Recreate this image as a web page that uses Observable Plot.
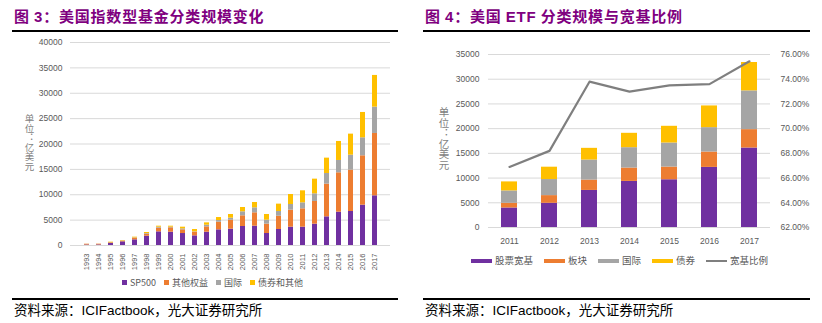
<!DOCTYPE html>
<html>
<head>
<meta charset="utf-8">
<script src="https://cdn.jsdelivr.net/npm/d3@7"></script>
<script src="https://cdn.jsdelivr.net/npm/@observablehq/plot@0.6"></script>
<style>
  body { margin: 0; background: #fff; }
  #root { position: relative; width: 822px; height: 323px; overflow: hidden; background: #fff; }
  .abs { position: absolute; }
  .title { position: absolute; font-family: "Noto Sans CJK SC", "Liberation Sans", sans-serif; font-weight: 700; font-size: 15px; letter-spacing: 0.8px; color: #800080; white-space: nowrap; line-height: 1; }
  .title .lat { font-family: "Liberation Sans", Arial, sans-serif; }
  .rule { position: absolute; height: 1.5px; background: #000; }
  .src { position: absolute; font-family: "Noto Sans CJK SC", sans-serif; font-size: 13.5px; color: #000; white-space: nowrap; line-height: 1; }
  .src .lat { font-family: "Liberation Sans", Arial, sans-serif; }
  .ylab { position: absolute; writing-mode: vertical-rl; text-orientation: upright; font-family: "Noto Sans CJK SC", sans-serif; color: #7f7f7f; line-height: 1; white-space: nowrap; }
  .legend { position: absolute; display: flex; align-items: center; font-family: "Noto Sans CJK SC", "Liberation Sans", sans-serif; color: #595959; white-space: nowrap; line-height: 1; }
  .legend .item { display: flex; align-items: center; }
  .legend .sw { display: inline-block; }
</style>
</head>
<body>
<div id="root">
  <div class="title" style="left:14px;top:8px">图 <span class="lat">3</span>：美国指数型基金分类规模变化</div>
  <div class="rule" style="left:12px;top:30px;width:386px"></div>
  <div id="c1" class="abs" style="left:0;top:0"></div>
  <div class="ylab" style="left:24px;top:114px;font-size:9.5px">单位：亿美元</div>
  <div id="leg1" class="legend" style="left:122px;top:278px;font-size:9px;gap:8px"></div>
  <div class="rule" style="left:12px;top:298px;width:386px"></div>
  <div class="src" style="left:14px;top:303px">资料来源：<span class="lat">ICIFactbook</span>，光大证券研究所</div>

  <div class="title" style="left:425px;top:8px">图 <span class="lat">4</span>：美国 <span class="lat">ETF</span> 分类规模与宽基比例</div>
  <div class="rule" style="left:423px;top:30px;width:387px"></div>
  <div id="c2" class="abs" style="left:410px;top:0"></div>
  <div class="ylab" style="left:438px;top:107px;font-size:10.5px">单位：亿美元</div>
  <div id="leg2" class="legend" style="left:471px;top:256px;font-size:9.5px;gap:11px"></div>
  <div class="rule" style="left:423px;top:298px;width:387px"></div>
  <div class="src" style="left:425px;top:303px">资料来源：<span class="lat">ICIFactbook</span>，光大证券研究所</div>
</div>
<script>
// ---------- Chart 3 data: 美国指数型基金分类规模 (亿美元) ----------
const years1 = ["1993","1994","1995","1996","1997","1998","1999","2000","2001","2002","2003","2004","2005","2006","2007","2008","2009","2010","2011","2012","2013","2014","2015","2016","2017"];
const series1 = ["SP500","其他权益","国际","债券和其他"];
const sp500      = [100,120,390,720,1115,1840,2690,2625,2360,1900,2625,3085,3220,3745,3810,2365,3155,3615,3615,4205,5650,6570,6700,7950,9790];
const otherEquity= [150,140,135,130,330,390,720,855,725,725,1050,1510,1770,2105,2630,1840,2625,3350,3615,4470,6440,7755,8150,9725,12285];
const intl1      = [0,0,30,50,60,130,200,130,195,65,325,325,400,790,985,790,920,1115,1180,1510,2100,2430,2955,3545,5190];
const bonds1     = [10,10,95,80,135,200,195,195,330,460,460,590,720,850,1050,1115,1450,1970,2365,2890,3025,3745,4140,4995,6245];
const yTicks1 = [0,5000,10000,15000,20000,25000,30000,35000,40000];

// ---------- Chart 4 data: 美国 ETF 分类规模与宽基比例 ----------
const years2 = ["2011","2012","2013","2014","2015","2016","2017"];
const series2 = ["股票宽基","板块","国际","债券"];
const broad  = [3950,4900,7500,9325,9660,12160,16080];
const sector = [950,1550,2095,2705,2570,3110,3720];
const intl2  = [2500,3250,4055,4120,4865,4930,7840];
const bond2  = [1825,2500,2365,2905,3380,4395,5740];
const ratio  = [66.9,68.2,73.8,73.0,73.5,73.6,75.45];   // 宽基比例 (%)
const lineName = "宽基比例";
const yTicks2 = [0,5000,10000,15000,20000,25000,30000,35000];
const pctTicks = [62,64,66,68,70,72,74,76];

const colors = ["#7030A0","#ED7D31","#A5A5A5","#FFC000"];
const lineColor = "#7f7f7f";
const gridColor = "#d9d9d9";

// ---------- build tables ----------
const rows1 = [];
years1.forEach((yr, i) => {
  [sp500, otherEquity, intl1, bonds1].forEach((arr, k) => rows1.push({year: yr, series: series1[k], value: arr[i]}));
});
const rows2 = [];
years2.forEach((yr, i) => {
  [broad, sector, intl2, bond2].forEach((arr, k) => rows2.push({year: yr, series: series2[k], value: arr[i]}));
});
const pMin = 62, pMax = 76, yMax2 = 35000;
const toY = p => (p - pMin) / (pMax - pMin) * yMax2;
const fromY = v => v / yMax2 * (pMax - pMin) + pMin;
const ratioRows = years2.map((yr, i) => ({year: yr, ratio: ratio[i]}));

const tickFont = "'Liberation Sans', Arial, sans-serif";

// ---------- Chart 3 ----------
const chart1 = Plot.plot({
  width: 410, height: 280,
  marginTop: 42, marginBottom: 35, marginLeft: 70, marginRight: 20,
  style: {fontFamily: tickFont, fontSize: "8.5px", color: "#595959", background: "transparent"},
  x: {type: "band", domain: years1, paddingInner: 0.62, paddingOuter: 0.31, label: null},
  y: {domain: [0, 40000], label: null},
  color: {domain: series1, range: colors},
  marks: [
    Plot.gridY({ticks: yTicks1, stroke: gridColor, strokeOpacity: 1, strokeWidth: 1}),
    Plot.barY(rows1, {x: "year", y: "value", fill: "series"}),
    Plot.axisY({ticks: yTicks1, tickSize: 0, tickPadding: 8, tickFormat: d => String(d), label: null}),
    Plot.axisX({tickRotate: -90, tickSize: 0, tickPadding: 8, fontSize: 7.5, label: null})
  ]
});
document.getElementById("c1").appendChild(chart1);

// ---------- Chart 4 ----------
const chart2 = Plot.plot({
  width: 412, height: 250,
  marginTop: 54, marginBottom: 23, marginLeft: 78, marginRight: 52,
  style: {fontFamily: tickFont, fontSize: "8.5px", color: "#595959", background: "transparent"},
  x: {type: "band", domain: years2, paddingInner: 0.6, paddingOuter: 0.3, label: null},
  y: {domain: [0, yMax2], label: null},
  color: {domain: series2, range: colors},
  marks: [
    Plot.gridY({ticks: yTicks2, stroke: gridColor, strokeOpacity: 1, strokeWidth: 1}),
    Plot.barY(rows2, {x: "year", y: "value", fill: "series"}),
    Plot.line(ratioRows, {x: "year", y: d => toY(d.ratio), stroke: lineColor, strokeWidth: 2.2}),
    Plot.axisY({ticks: yTicks2, tickSize: 0, tickPadding: 9, tickFormat: d => String(d), label: null}),
    Plot.axisY({anchor: "right", ticks: pctTicks.map(toY), tickSize: 0, tickPadding: 10, tickFormat: v => fromY(v).toFixed(2) + "%", label: null}),
    Plot.axisX({tickSize: 0, tickPadding: 10, label: null})
  ]
});
document.getElementById("c2").appendChild(chart2);

// ---------- legends ----------
const leg1 = document.getElementById("leg1");
series1.forEach((s, k) => {
  const it = document.createElement("div");
  it.className = "item";
  it.innerHTML = `<span class="sw" style="width:5px;height:5px;background:${colors[k]};margin-right:3px"></span><span>${s}</span>`;
  leg1.appendChild(it);
});
const leg2 = document.getElementById("leg2");
series2.forEach((s, k) => {
  const it = document.createElement("div");
  it.className = "item";
  it.innerHTML = `<span class="sw" style="width:21px;height:4px;background:${colors[k]};margin-right:3px"></span><span>${s}</span>`;
  leg2.appendChild(it);
});
{
  const it = document.createElement("div");
  it.className = "item";
  it.innerHTML = `<span class="sw" style="width:21px;height:2px;background:${lineColor};margin-right:3px"></span><span>${lineName}</span>`;
  leg2.appendChild(it);
}
</script>
</body>
</html>
